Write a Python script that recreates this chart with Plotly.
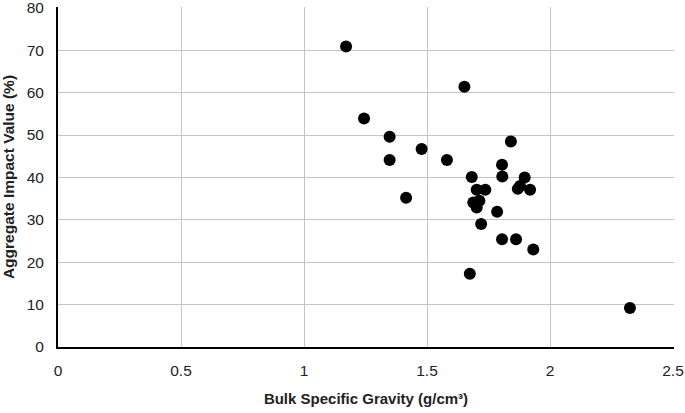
import plotly.graph_objects as go

# bulk specific gravity (g/cm3) vs aggregate impact value (%)
bulk_sg = [1.171, 1.652, 1.244, 1.348, 1.478, 1.348, 1.581, 1.841, 1.415, 1.805,
           1.682, 1.806, 1.897, 1.702, 1.737, 1.878, 1.869, 1.919, 1.688, 1.713,
           1.702, 1.785, 1.720, 1.805, 1.862, 1.932, 1.674, 2.325]
aiv = [70.9, 61.4, 53.9, 49.6, 46.7, 44.1, 44.1, 48.5, 35.2, 43.0,
       40.1, 40.2, 40.0, 37.1, 37.1, 38.0, 37.3, 37.1, 34.1, 34.5,
       32.9, 31.9, 29.0, 25.4, 25.4, 23.0, 17.3, 9.2]

x_ticks = [0, 0.5, 1, 1.5, 2, 2.5]
x_tick_text = ["0", "0.5", "1", "1.5", "2", "2.5"]
y_ticks = [0, 10, 20, 30, 40, 50, 60, 70, 80]

fig = go.Figure(go.Scatter(
    x=bulk_sg, y=aiv, mode="markers",
    marker=dict(size=12, color="black"),
    showlegend=False,
))

fig.update_layout(
    width=685, height=413,
    margin=dict(l=58, r=11, t=7, b=66),
    paper_bgcolor="white", plot_bgcolor="white",
    font=dict(family="Liberation Sans, Arial, sans-serif", size=15.5, color="#222"),
)
# ranges nudged a hair past the last tick so the edge gridlines draw
fig.update_xaxes(
    range=[0, 2.504], tickvals=x_ticks, ticktext=x_tick_text,
    showgrid=True, gridcolor="#c4c4c4", gridwidth=1,
    showline=True, linecolor="black", linewidth=2,
    zeroline=False, ticks="", ticklabelstandoff=8,
    ticklabeloverflow="allow",
    title=dict(text="<b>Bulk Specific Gravity (g/cm³)</b>", standoff=16,
               font=dict(size=15, color="#222")),
    automargin=False,
)
fig.update_yaxes(
    range=[0, 80.2], tickvals=y_ticks,
    showgrid=True, gridcolor="#c4c4c4", gridwidth=1,
    showline=True, linecolor="black", linewidth=2,
    zeroline=False, ticks="", ticklabelstandoff=9,
    ticklabeloverflow="allow",
    title=dict(text="<b>Aggregate Impact Value (%)</b>", standoff=9,
               font=dict(size=15.5, color="#222")),
    automargin=False,
)

# page body has an 8px default margin; drop it so the figure sits at 0,0
fig.write_html("out.html", config={"displayModeBar": False},
               post_script="document.body.style.margin='0px';")
